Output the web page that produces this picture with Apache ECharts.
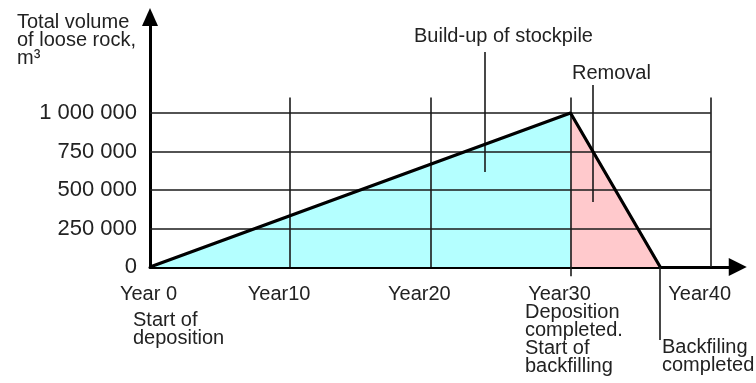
<!DOCTYPE html>
<html>
<head>
<meta charset="utf-8">
<script src="https://cdn.jsdelivr.net/npm/echarts@6/dist/echarts.min.js"></script>
<style>
  html, body { margin: 0; padding: 0; background: #fff; }
  #chart { width: 756px; height: 383px; }
</style>
</head>
<body>
<div id="chart"></div>
<script>
// stockpile profile: year -> total volume (m3)
const years = [0, 30, 36.4];
const volume = [0, 1000000, 0];
const yTicks = [0, 250000, 500000, 750000, 1000000];
const xTicks = [0, 10, 20, 30, 40];
const gridTop = 1100000; // vertical grid lines stop here

const font = 'Liberation Sans, Arial, Helvetica, sans-serif';
const ink = '#222';

const chart = echarts.init(document.getElementById('chart'));

// grid lines + leader lines, all in data coords
const hLines = yTicks.slice(1).map(v => ({ coords: [[0, v], [40, v]] }));
const vLines = xTicks.slice(1).map(x => ({
  coords: [[x, x === 30 ? -60000 : 0], [x, gridTop]]
}));
const leaders = [
  { coords: [[23.86, 1396000], [23.86, 617000]] }, // build-up
  { coords: [[31.62, 1182000], [31.62, 422000]] }, // removal
  { coords: [[years[2], 0], [years[2], -474000]] } // backfilling completed
];

function fmtVol(v) {
  return String(v).replace(/\B(?=(\d{3})+(?!\d))/g, ' ');
}

const textBase = { fontFamily: font, fontSize: 20, lineHeight: 18, fill: ink };

const option = {
  animation: false,
  title: {
    text: 'Total volume\nof loose rock,\nm³',
    left: 17,
    top: 13,
    padding: 0,
    textStyle: { fontFamily: font, fontSize: 20, lineHeight: 18, fontWeight: 'normal', color: ink }
  },
  grid: { left: 150, right: 12, top: 17, bottom: 116, containLabel: false },
  xAxis: {
    type: 'value',
    min: 0,
    max: 41.93,
    interval: 10,
    axisLine: {
      lineStyle: { color: '#000', width: 3 },
      symbol: ['none', 'triangle'],
      symbolSize: [18, 18]
    },
    axisTick: { show: false },
    splitLine: { show: false },
    axisLabel: {
      margin: 18,
      formatter: v => {
        if (v === 0) return '{z|Year 0}';
        return xTicks.includes(v) ? '{n|Year' + v + '}' : '';
      },
      rich: {
        z: { fontFamily: font, fontSize: 20, lineHeight: 18, color: ink, padding: [0, 3, 0, 0] },
        n: { fontFamily: font, fontSize: 20, lineHeight: 18, color: ink, padding: [0, 22, 0, 0] }
      }
    }
  },
  yAxis: {
    type: 'value',
    min: 0,
    max: 1623000,
    interval: 250000,
    axisLine: {
      lineStyle: { color: '#000', width: 3 },
      symbol: ['none', 'triangle'],
      symbolSize: [16, 18]
    },
    axisTick: { show: false },
    splitLine: { show: false },
    axisLabel: {
      margin: 13,
      fontFamily: font,
      fontSize: 22,
      color: ink,
      formatter: v => (yTicks.includes(v) ? fmtVol(v) : '')
    }
  },
  series: [
    {
      name: 'Build-up of stockpile',
      type: 'line',
      data: [[years[0], volume[0]], [years[1], volume[1]]],
      symbol: 'none',
      lineStyle: { width: 0 },
      areaStyle: { color: '#b4ffff', opacity: 1 },
      z: 1
    },
    {
      name: 'Removal',
      type: 'line',
      data: [[years[1], volume[1]], [years[2], volume[2]]],
      symbol: 'none',
      lineStyle: { width: 0 },
      areaStyle: { color: '#ffc9cc', opacity: 1 },
      z: 1
    },
    {
      type: 'lines',
      coordinateSystem: 'cartesian2d',
      clip: false,
      silent: true,
      data: hLines.concat(vLines, leaders),
      lineStyle: { color: '#1a1a1a', width: 1.6, opacity: 1, curveness: 0 },
      z: 5
    },
    {
      name: 'Total volume',
      type: 'line',
      data: years.map((y, i) => [y, volume[i]]),
      symbol: 'none',
      lineStyle: { color: '#000', width: 3.2 },
      z: 10
    }
  ],
  graphic: [
    { type: 'text', left: 414, top: 26, style: Object.assign({ text: 'Build-up of stockpile' }, textBase) },
    { type: 'text', left: 572, top: 63, style: Object.assign({ text: 'Removal' }, textBase) },
    { type: 'text', left: 133, top: 310, style: Object.assign({ text: 'Start of\ndeposition' }, textBase) },
    { type: 'text', left: 525, top: 302, style: Object.assign({ text: 'Deposition\ncompleted.\nStart of\nbackfilling' }, textBase) },
    { type: 'text', left: 662, top: 337, style: Object.assign({ text: 'Backfiling\ncompleted' }, textBase) }
  ]
};

chart.setOption(option);
</script>
</body>
</html>
